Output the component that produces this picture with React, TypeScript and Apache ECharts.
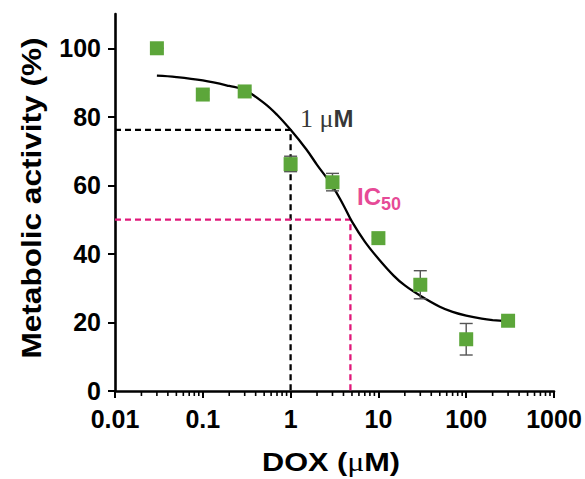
import React, { useEffect, useRef } from "react";
import * as echarts from "echarts";

// Measured points (DOX concentration in µM, metabolic activity %)
const doses = [0.03, 0.1, 0.3, 1, 3, 10, 30, 100, 300];
const activity = [100, 86.5, 87.4, 66.2, 60.9, 44.6, 31.0, 15.1, 20.5];
const errLow = [100, 85.2, 87.0, 64.0, 58.4, 44.0, 26.9, 10.5, 20.0];
const errHigh = [100, 87.8, 87.8, 68.5, 63.5, 45.2, 35.1, 19.7, 21.0];

// Fitted curve
const curveX = [0.03, 0.05, 0.1, 0.2, 0.3, 0.5, 0.7, 1, 1.5, 2, 3, 4, 5, 7, 10, 15, 20, 30, 50, 70, 100, 150, 200, 300];
const curveY = [92.0, 91.6, 90.6, 89.0, 87.8, 84.0, 80.6, 76.2, 70.6, 66.0, 59.8, 54.2, 49.4, 43.6, 38.6, 33.6, 30.8, 27.8, 24.6, 23.1, 22.0, 21.1, 20.7, 20.4];

// Reference lines
const oneMicroX = 1;
const oneMicroY = 76.2;
const ic50X = 4.8;
const ic50Y = 50;

// Axis ticks and titles
const yTicks = [0, 20, 40, 60, 80, 100];
const xDecades = [0.01, 0.1, 1, 10, 100];
const minorMultipliers = [2, 3, 4, 5, 6, 7, 8, 9];
const yTitle = "Metabolic activity (%)";

const GREEN = "#5CA63A";
const PINK = "#E0187A";

export default function App() {
  const ref = useRef<HTMLDivElement>(null);
  useEffect(() => {
    if (!ref.current) return;
    const chart = echarts.init(ref.current, null, { renderer: "svg" });
    const minorTicks: number[][] = [];
    xDecades.forEach((d) => minorMultipliers.forEach((m) => minorTicks.push([+(d * m).toPrecision(3), 0])));
    const font = "'Liberation Sans', Arial, sans-serif";
    const serif = "'Liberation Serif', 'Times New Roman', serif";
    chart.setOption({
      animation: false,
      grid: { left: 115, right: 31, top: 14, bottom: 88 },
      graphic: [
        {
          type: "text",
          x: 331,
          y: 462,
          scaleX: 1.18,
          style: {
            text: "{a|DOX (}{m|\u03bc}{a|M)}",
            align: "center",
            verticalAlign: "middle",
            rich: {
              a: { fontFamily: font, fontWeight: "bold", fontSize: 26, fill: "#000" },
              m: { fontFamily: serif, fontSize: 27, fill: "#000" },
            },
          },
        },
        {
          type: "text",
          x: 31,
          y: 198,
          rotation: Math.PI / 2,
          scaleX: 1.17,
          style: {
            text: yTitle,
            align: "center",
            verticalAlign: "middle",
            fontFamily: font,
            fontWeight: "bold",
            fontSize: 27,
            fill: "#000",
          },
        },
      ],
      xAxis: {
        type: "log",
        logBase: 10,
        min: 0.01,
        max: 1000,
        axisLine: { lineStyle: { color: "#000", width: 2.6 } },
        axisTick: { lineStyle: { color: "#000", width: 2 }, length: 7 },
        axisLabel: {
          fontFamily: font,
          fontWeight: "bold",
          fontSize: 25,
          color: "#000",
          margin: 15,
          formatter: (v: number) => String(+v.toPrecision(3)),
        },
        splitLine: { show: false },
        minorTick: { show: false },
      },
      yAxis: {
        type: "value",
        min: 0,
        max: 110,
        axisLine: { show: true, lineStyle: { color: "#000", width: 2.6 } },
        axisTick: { show: true, customValues: yTicks, lineStyle: { color: "#000", width: 2 }, length: 7 },
        axisLabel: {
          customValues: yTicks,
          fontFamily: font,
          fontWeight: "bold",
          fontSize: 25,
          color: "#000",
          margin: 14,
        },
        splitLine: { show: false },
      },
      series: [
        {
          type: "custom",
          silent: true,
          clip: false,
          data: minorTicks,
          renderItem: (params: any, api: any) => {
            const p = api.coord([api.value(0), 0]);
            return {
              type: "line",
              shape: { x1: p[0], y1: p[1], x2: p[0], y2: p[1] + 5 },
              style: { stroke: "#000", lineWidth: 1.6 },
            };
          },
        },
        {
          type: "line",
          data: [[0.01, oneMicroY], [oneMicroX, oneMicroY], [oneMicroX, 0]],
          symbol: "none",
          lineStyle: { color: "#000", width: 2.3, type: [6, 4] },
          z: 2,
        },
        {
          type: "line",
          data: [[0.01, ic50Y], [ic50X, ic50Y], [ic50X, 0]],
          symbol: "none",
          lineStyle: { color: PINK, width: 2.3, type: [6, 4] },
          z: 2,
        },
        {
          type: "line",
          data: curveX.map((x, i) => [x, curveY[i]]),
          symbol: "none",
          smooth: 0.4,
          lineStyle: { color: "#000", width: 2.3 },
          z: 3,
        },
        {
          type: "custom",
          silent: true,
          data: doses.map((x, i) => [x, errLow[i], errHigh[i]]),
          renderItem: (params: any, api: any) => {
            const lo = api.coord([api.value(0), api.value(1)]);
            const hi = api.coord([api.value(0), api.value(2)]);
            const hw = 6.5;
            const st = { stroke: "#555", lineWidth: 1.4 };
            return {
              type: "group",
              children: [
                { type: "line", shape: { x1: lo[0], y1: lo[1], x2: hi[0], y2: hi[1] }, style: st },
                { type: "line", shape: { x1: lo[0] - hw, y1: lo[1], x2: lo[0] + hw, y2: lo[1] }, style: st },
                { type: "line", shape: { x1: hi[0] - hw, y1: hi[1], x2: hi[0] + hw, y2: hi[1] }, style: st },
              ],
            };
          },
          z: 4,
        },
        {
          type: "scatter",
          data: doses.map((x, i) => [x, activity[i]]),
          symbol: "rect",
          symbolSize: 14,
          itemStyle: { color: GREEN, opacity: 1 },
          z: 5,
        },
        {
          type: "scatter",
          silent: true,
          symbolSize: 0,
          data: [[1.28, 79.5]],
          label: {
            show: true,
            position: "right",
            distance: 0,
            formatter: "{a|1 \u03bc}{b|M}",
            rich: {
              a: { fontFamily: serif, fontSize: 26, color: "#000" },
              b: { fontFamily: font, fontWeight: "bold", fontSize: 24, color: "#000" },
            },
          },
          z: 6,
        },
        {
          type: "scatter",
          silent: true,
          symbolSize: 0,
          data: [[5.7, 56.7]],
          label: {
            show: true,
            position: "right",
            distance: 0,
            formatter: "{a|IC}{b|50}",
            rich: {
              a: { fontFamily: font, fontWeight: "bold", fontSize: 24, color: PINK, lineHeight: 32 },
              b: { fontFamily: font, fontWeight: "bold", fontSize: 18, color: PINK, lineHeight: 14, verticalAlign: "bottom" },
            },
          },
          z: 6,
        },
      ],
    });
    return () => chart.dispose();
  }, []);
  return <div ref={ref} style={{ position: "absolute", left: 0, top: 0, width: 585, height: 479 }} />;
}
